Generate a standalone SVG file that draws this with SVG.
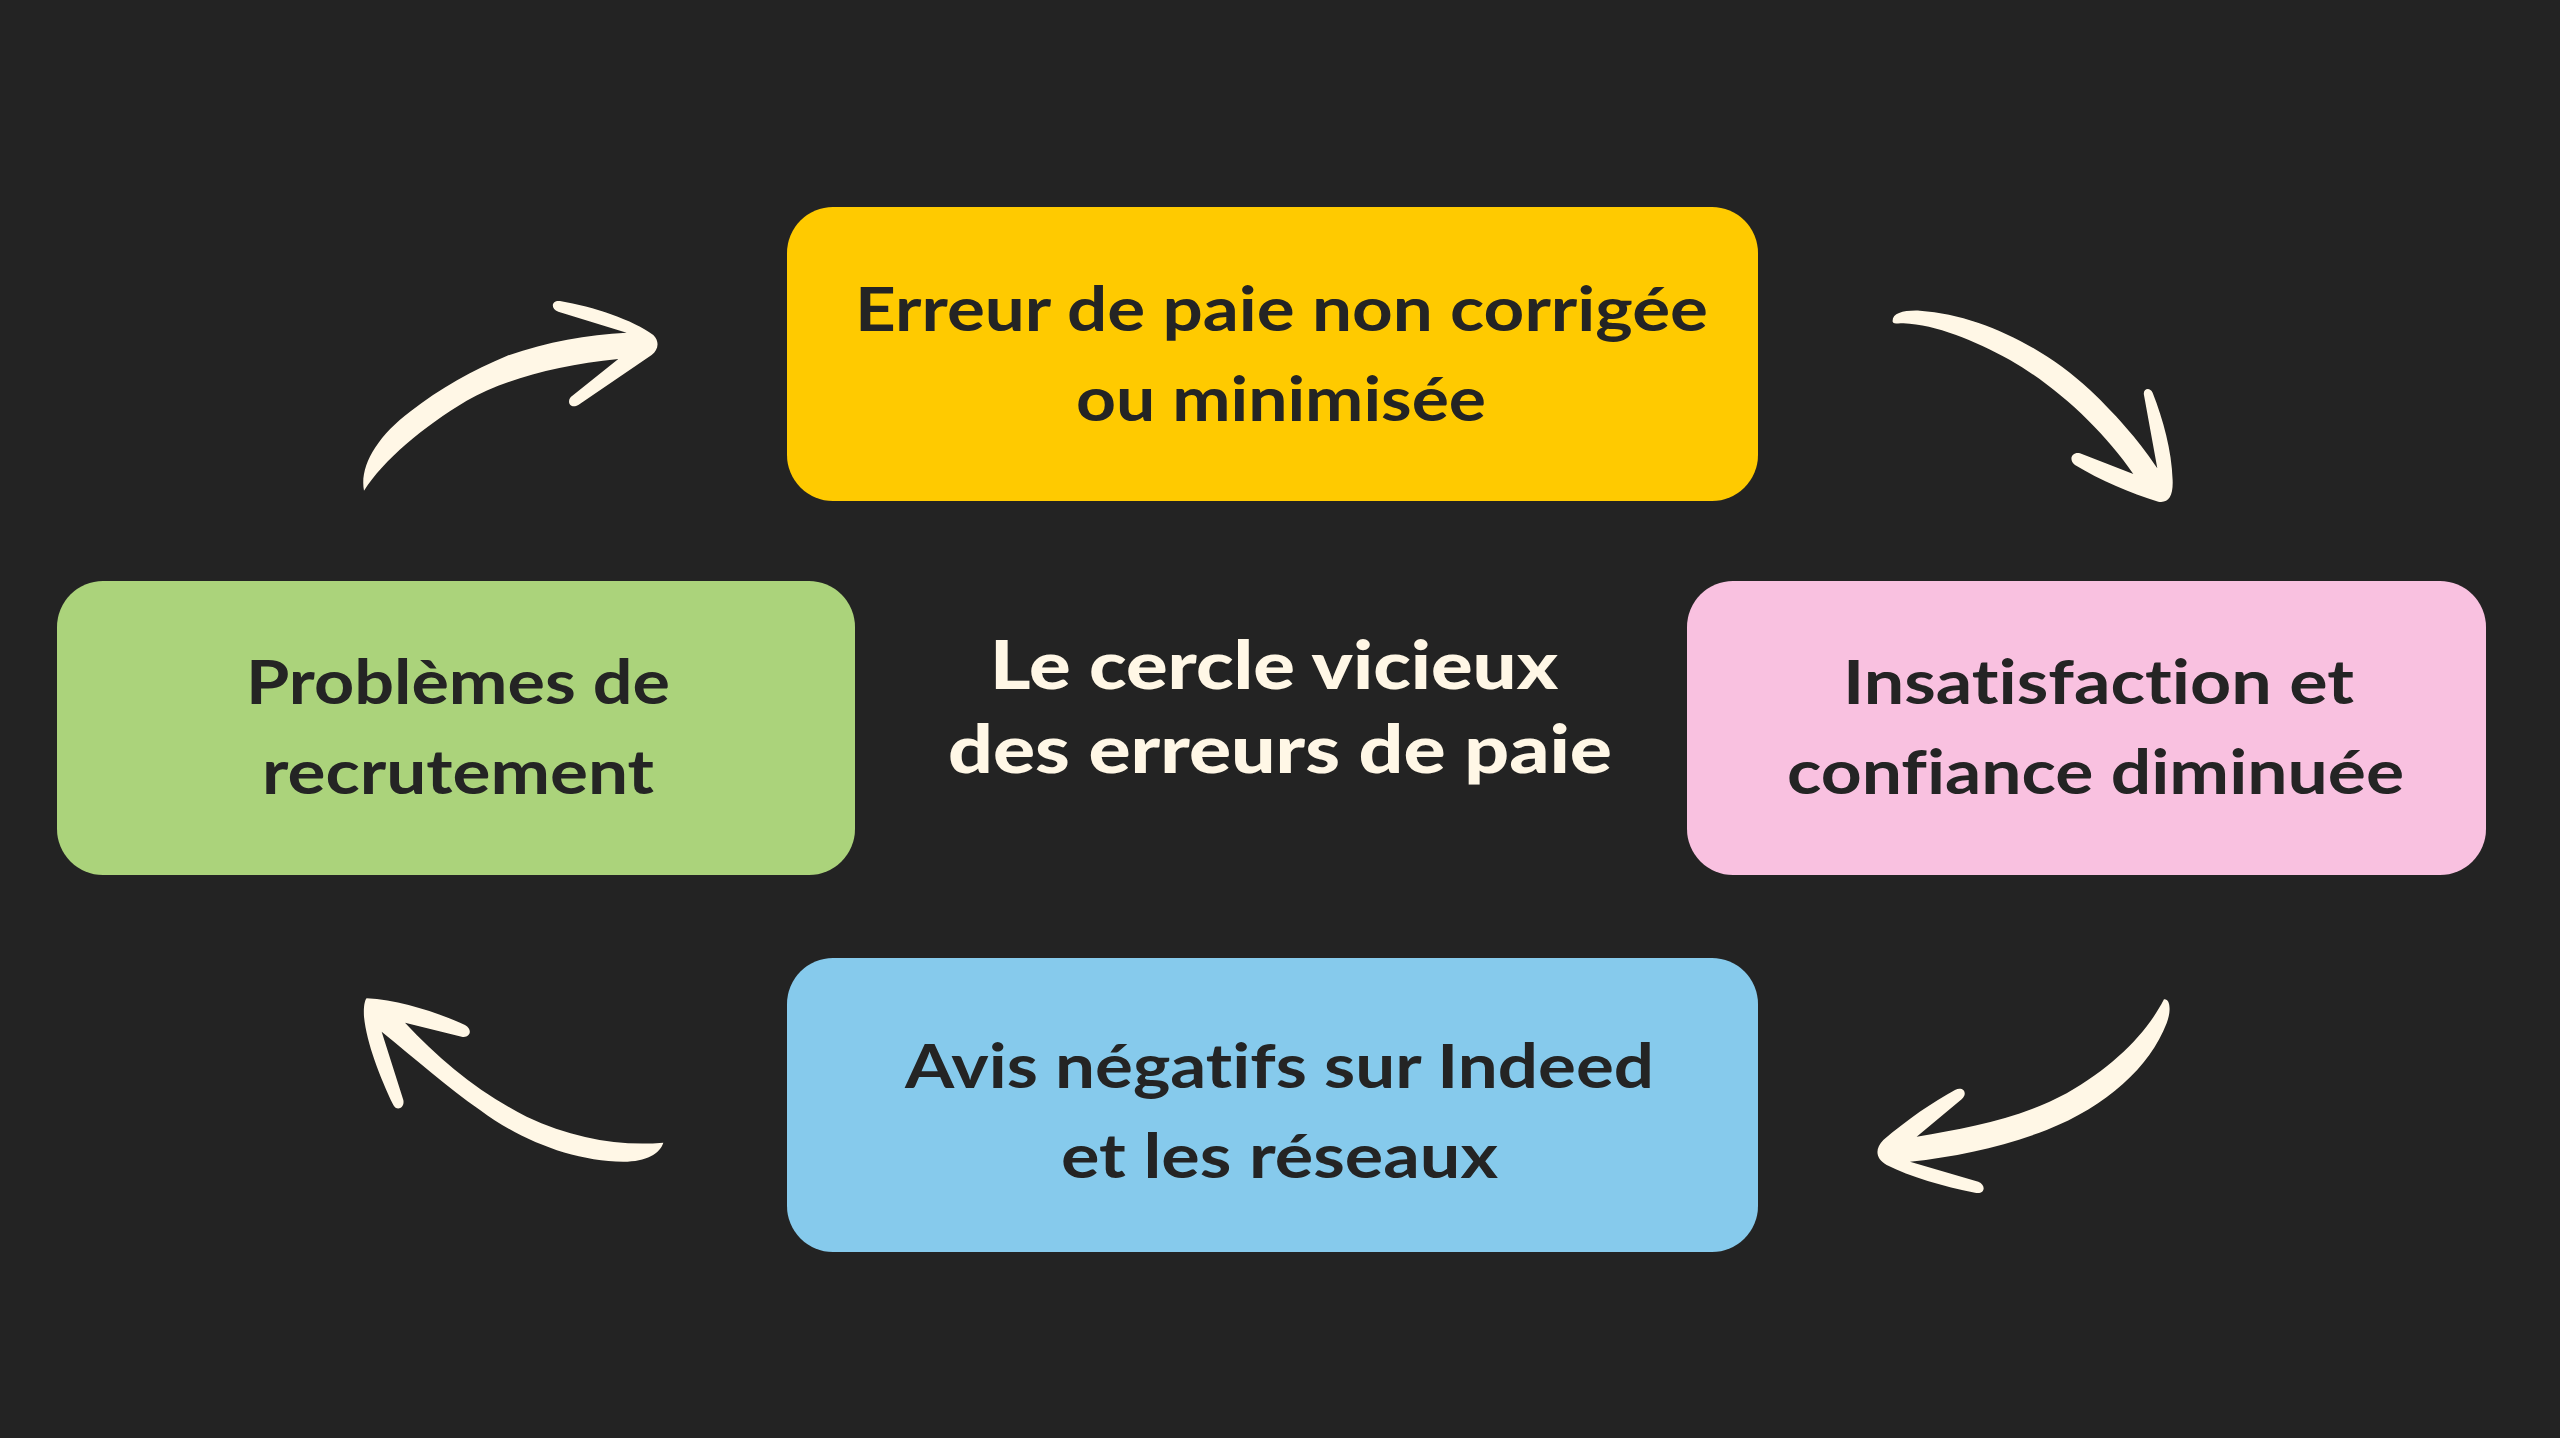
<svg xmlns="http://www.w3.org/2000/svg" width="2560" height="1438" viewBox="0 0 2560 1438">
<style>
.box text{font-family:"Lato","Liberation Sans",sans-serif;font-weight:700;font-size:62px;fill:#242424;font-variant-ligatures:none}
.title{font-family:"Lato","Liberation Sans",sans-serif;font-weight:900;font-size:66px;fill:#FFF7E6;font-variant-ligatures:none}
.arrow{fill:#FFF7E6}
</style>
<rect width="2560" height="1438" fill="#232323"/>
<g id="connectors">
<path class="arrow" transform="translate(340,280) scale(0.3333)" d="M72,632 C58,560 110,470 210,395 C300,325 400,270 500,228 C620,185 740,165 860,158 L655,95 C630,85 635,60 660,63 C760,80 880,120 940,165 C960,185 955,210 935,225 L715,375 C690,390 675,360 700,345 L835,237 C650,255 490,300 380,362 C250,440 130,540 72,632 Z"/>
<path class="arrow" transform="translate(1870,290) scale(0.3333)" d="M68,95 C65,70 100,60 150,62 C330,75 520,170 660,300 C750,385 820,470 862,535 L822,315 C818,295 840,290 848,308 C880,390 905,480 908,570 C910,620 895,640 865,635 C780,610 690,570 615,525 C595,510 605,485 630,490 L790,552 C700,420 560,290 420,210 C310,150 200,105 100,100 C85,100 70,102 68,95 Z"/>
<path class="arrow" transform="translate(1860,980) scale(0.3333)" d="M912,58 C930,55 935,90 920,130 C870,260 740,380 560,450 C430,500 290,530 150,545 L355,605 C380,615 375,645 345,638 C250,620 150,590 80,555 C45,535 45,505 70,480 C140,420 220,365 285,330 C310,318 325,340 305,358 L170,470 C320,445 480,415 620,340 C760,260 860,160 912,58 Z"/>
<path class="arrow" transform="translate(340,980) scale(0.3333)" d="M80,55 C180,60 300,100 375,135 C400,150 390,175 365,170 L195,128 C300,240 420,340 560,410 C700,475 840,500 970,488 C960,520 920,545 850,545 C700,545 540,480 420,390 C320,320 230,240 125,155 L190,360 C195,385 170,395 160,375 C120,290 80,190 72,110 C70,80 75,58 80,55 Z"/>
</g>
<g id="node-top" class="box">
<rect x="787" y="207" width="971" height="294" rx="46" fill="#FFCA00"/>
<text x="855" y="331" textLength="853" lengthAdjust="spacingAndGlyphs">Erreur de paie non corrigée</text>
<text x="1076" y="421" textLength="410" lengthAdjust="spacingAndGlyphs">ou minimisée</text>
</g>
<g id="node-right" class="box">
<rect x="1687" y="581" width="799" height="294" rx="46" fill="#F9C1E0"/>
<text x="1843" y="704" textLength="511" lengthAdjust="spacingAndGlyphs">Insatisfaction et</text>
<text x="1787" y="794" textLength="617" lengthAdjust="spacingAndGlyphs">confiance diminuée</text>
</g>
<g id="node-bottom" class="box">
<rect x="787" y="958" width="971" height="294" rx="46" fill="#86CAEC"/>
<text x="905" y="1088" textLength="749" lengthAdjust="spacingAndGlyphs">Avis négatifs sur Indeed</text>
<text x="1061" y="1178" textLength="437" lengthAdjust="spacingAndGlyphs">et les réseaux</text>
</g>
<g id="node-left" class="box">
<rect x="57" y="581" width="798" height="294" rx="46" fill="#ABD37B"/>
<text x="246" y="704" textLength="424" lengthAdjust="spacingAndGlyphs">Problèmes de</text>
<text x="262" y="794" textLength="392" lengthAdjust="spacingAndGlyphs">recrutement</text>
</g>
<g id="title">
<text class="title" x="990" y="689" textLength="568" lengthAdjust="spacingAndGlyphs">Le cercle vicieux</text>
<text class="title" x="948" y="773" textLength="664" lengthAdjust="spacingAndGlyphs">des erreurs de paie</text>
</g>
</svg>
